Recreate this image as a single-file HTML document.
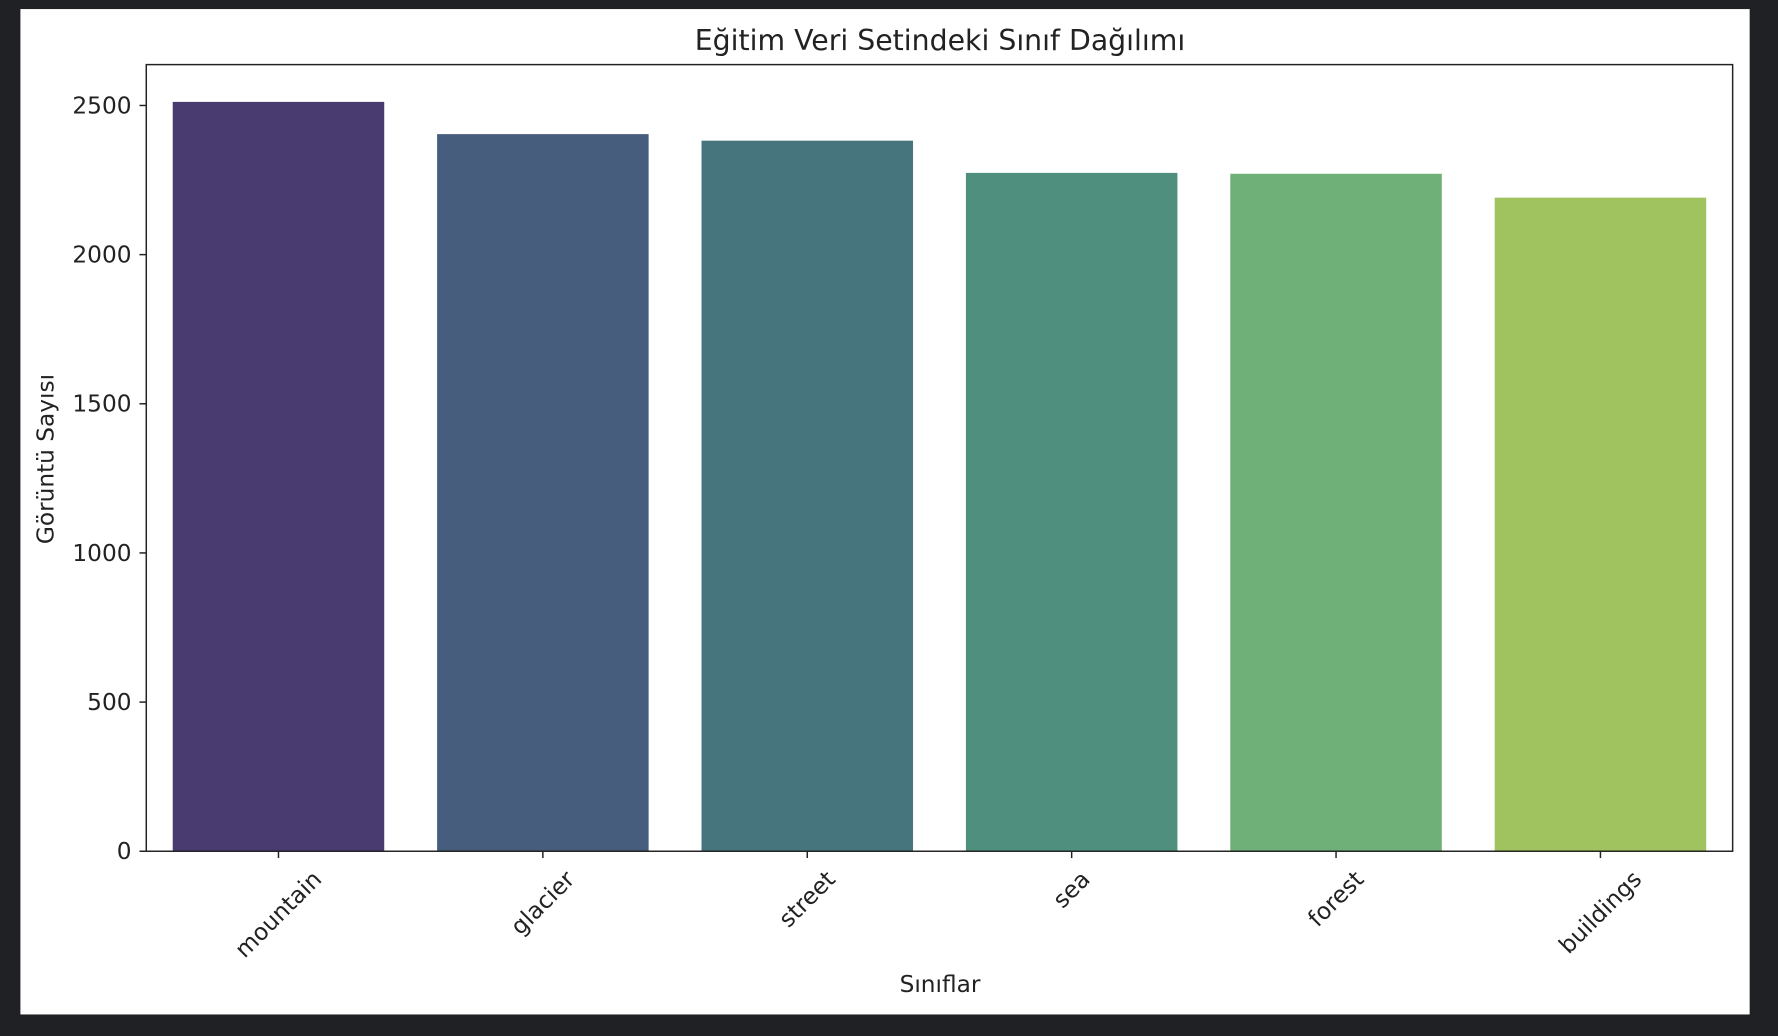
<!DOCTYPE html>
<html><head><meta charset="utf-8"><style>
html,body{margin:0;padding:0;background:#202124;}
svg{display:block;}
text{font-family:"DejaVu Sans","Liberation Sans",sans-serif;fill:#222;}
</style></head><body>
<svg id="chart" width="1778" height="1036" viewBox="0 0 1568 914" preserveAspectRatio="none">
<rect x="0" y="0" width="1568" height="914" fill="#202124"/>
<rect x="18" y="8" width="1525" height="887" fill="#ffffff"/>
<text x="829" y="44" text-anchor="middle" font-size="25">Eğitim Veri Setindeki Sınıf Dağılımı</text>
<g id="bars"></g>
<g id="yticks"></g>
<g id="xticks"></g>
<rect x="129" y="57" width="1399" height="694" fill="none" stroke="#222" stroke-width="1.3"/>
<text x="829" y="875" text-anchor="middle" font-size="20.5">Sınıflar</text>
<text transform="translate(47,405) rotate(-90)" text-anchor="middle" font-size="20.5">Görüntü Sayısı</text>
</svg>
<script>
const categories = ["mountain","glacier","street","sea","forest","buildings"];
const counts = [2512,2404,2382,2274,2271,2191];
const colors = ["#493a6f","#465d7e","#46757e","#4f8f7e","#6faf78","#a1c35f"];
const yTicks = [0,500,1000,1500,2000,2500];
const L=129,R=1528,T=57,B=751,yMax=2637;
const FS=20.5;
const ns="http://www.w3.org/2000/svg";
const y=v=>B-(v/yMax)*(B-T);
const step=(R-L)/categories.length;
const xc=i=>L+step*(i+0.5);
const bars=document.getElementById('bars'),yt=document.getElementById('yticks'),xt=document.getElementById('xticks');
categories.forEach((c,i)=>{
  const r=document.createElementNS(ns,'rect');
  r.setAttribute('x',xc(i)-step*0.4);r.setAttribute('width',step*0.8);
  r.setAttribute('y',y(counts[i]));r.setAttribute('height',B-y(counts[i]));
  r.setAttribute('fill',colors[i]);
  
  
  bars.appendChild(r);
  const l=document.createElementNS(ns,'line');
  l.setAttribute('x1',xc(i));l.setAttribute('x2',xc(i));l.setAttribute('y1',B);l.setAttribute('y2',B+6);
  l.setAttribute('stroke','#222');l.setAttribute('stroke-width','1.3');
  
  
  xt.appendChild(l);
  const t=document.createElementNS(ns,'text');
  t.setAttribute('font-size',FS);t.setAttribute('text-anchor','middle');
  t.setAttribute('dominant-baseline','central');
  t.textContent=c;
  
  
  xt.appendChild(t);
  const len=t.getComputedTextLength();
  const half=(len*0.707+FS*0.707)/2;
  t.setAttribute('transform','translate('+xc(i)+','+(B+14+half)+') rotate(-45)');
});
yTicks.forEach(v=>{
  const l=document.createElementNS(ns,'line');
  l.setAttribute('x1',L-6);l.setAttribute('x2',L);l.setAttribute('y1',y(v));l.setAttribute('y2',y(v));
  l.setAttribute('stroke','#222');l.setAttribute('stroke-width','1.3');
  
  
  yt.appendChild(l);
  const t=document.createElementNS(ns,'text');
  t.setAttribute('x',L-13);t.setAttribute('y',y(v)+7);t.setAttribute('font-size',FS);t.setAttribute('text-anchor','end');
  t.textContent=v;
  
  
  yt.appendChild(t);
});
</script>
</body></html>
